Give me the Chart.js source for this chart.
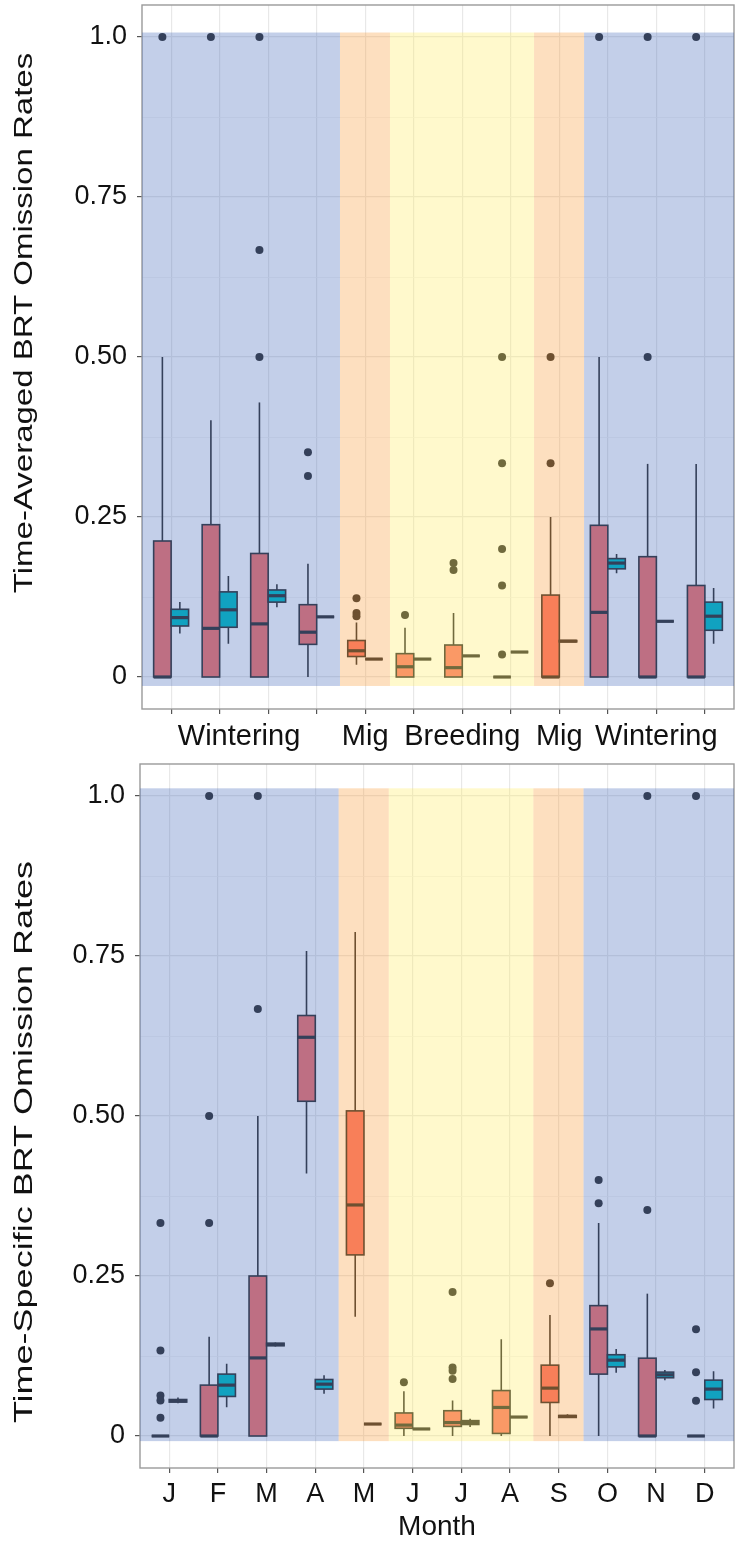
<!DOCTYPE html>
<html>
<head>
<meta charset="utf-8">
<script src="https://cdn.jsdelivr.net/npm/chart.js@4.4.1/dist/chart.umd.min.js"></script>
<style>
  html, body { margin: 0; padding: 0; background: #fff; }
  #wrap { position: relative; width: 738px; height: 1544px; }
  canvas { position: absolute; left: 0; }
</style>
</head>
<body>
<div id="wrap">
  <canvas id="avg-chart" width="738" height="760" style="top:0"></canvas>
  <canvas id="spec-chart" width="738" height="784" style="top:760px"></canvas>
</div>
<script>
// ── data ─────────────────────────────────────────────────────
const months      = [1, 2, 3, 4, 5, 6, 7, 8, 9, 10, 11, 12];
const monthLabels = ['J', 'F', 'M', 'A', 'M', 'J', 'J', 'A', 'S', 'O', 'N', 'D'];

const seasonLabels   = ['Wintering', 'Mig', 'Breeding', 'Mig', 'Wintering'];
const seasonLabelPos = [2.4, 5, 7, 9, 11];
const seasonEdges    = [0.4, 4.48, 5.51, 8.48, 9.51, 12.6];   // along the month axis
const seasonFills    = ['rgba(55,95,182,0.3)', 'rgba(248,148,42,0.3)', 'rgba(255,235,85,0.3)',
                        'rgba(248,148,42,0.3)', 'rgba(55,95,182,0.3)'];

const yMajor      = [0, 0.25, 0.5, 0.75, 1];
const yMajorLabel = ['0', '0.25', '0.50', '0.75', '1.0'];
const yMinor      = [0.125, 0.375, 0.625, 0.875];

// box stats per month: [lower whisker, q1, median, q3, upper whisker]
const avgLeft = [
  [0, 0, 0, 0.2125, 0.5],
  [0, 0, 0.076, 0.238, 0.401],
  [0, 0, 0.083, 0.193, 0.429],
  [0, 0.051, 0.070, 0.113, 0.177],
  [0.019, 0.032, 0.041, 0.057, 0.085],
  [0, 0, 0.016, 0.0365, 0.077],
  [0, 0, 0.0146, 0.05, 0.1],
  [0, 0, 0, 0, 0],
  [0, 0, 0, 0.128, 0.25],
  [0, 0, 0.101, 0.237, 0.5],
  [0, 0, 0, 0.188, 0.333],
  [0, 0, 0, 0.143, 0.333],
];
const avgRight = [
  [0.068, 0.0797, 0.0928, 0.1058, 0.117],
  [0.052, 0.0777, 0.105, 0.133, 0.158],
  [0.109, 0.117, 0.127, 0.136, 0.145],
  [0.094, 0.094, 0.094, 0.094, 0.094],
  [0.028, 0.028, 0.028, 0.028, 0.028],
  [0.028, 0.028, 0.028, 0.028, 0.028],
  [0.033, 0.033, 0.033, 0.033, 0.033],
  [0.039, 0.039, 0.039, 0.039, 0.039],
  [0.055, 0.055, 0.056, 0.057, 0.057],
  [0.162, 0.169, 0.178, 0.185, 0.192],
  [0.087, 0.087, 0.087, 0.087, 0.087],
  [0.052, 0.073, 0.095, 0.117, 0.139],
];
const avgLeftOut = [
  [1.0], [1.0], [1.0, 0.667, 0.5], [0.351, 0.314], [0.123, 0.1, 0.095], [0.097],
  [0.178, 0.167], [0.5, 0.334, 0.2, 0.143, 0.035], [0.5, 0.334], [1.0], [1.0, 0.5], [1.0],
];

const specLeft = [
  [0, 0, 0, 0, 0],
  [0, 0, 0, 0.0795, 0.155],
  [0, 0, 0.122, 0.25, 0.5],
  [0.41, 0.523, 0.623, 0.657, 0.758],
  [0.1865, 0.283, 0.361, 0.508, 0.7875],
  [0, 0.012, 0.017, 0.036, 0.07],
  [0, 0.015, 0.021, 0.0395, 0.0555],
  [0, 0.004, 0.0446, 0.071, 0.151],
  [0, 0.0524, 0.0748, 0.1107, 0.189],
  [0, 0.0967, 0.1673, 0.2037, 0.333],
  [0, 0, 0, 0.1216, 0.2224],
  [0, 0, 0, 0, 0],
];
const specRight = [
  [0.051, 0.053, 0.055, 0.057, 0.06],
  [0.045, 0.0618, 0.0795, 0.0967, 0.113],
  [0.14, 0.141, 0.143, 0.145, 0.146],
  [0.066, 0.0733, 0.081, 0.0883, 0.095],
  [0.0187, 0.0187, 0.0187, 0.0187, 0.0187],
  [0.011, 0.011, 0.011, 0.011, 0.011],
  [0.014, 0.018, 0.021, 0.024, 0.027],
  [0.0296, 0.0296, 0.0296, 0.0296, 0.0296],
  [0.028, 0.029, 0.0306, 0.032, 0.034],
  [0.099, 0.108, 0.1185, 0.127, 0.136],
  [0.087, 0.091, 0.0956, 0.0998, 0.103],
  [0.043, 0.057, 0.0733, 0.0873, 0.1013],
];
const specLeftOut = [
  [0.333, 0.1335, 0.0633, 0.0555, 0.0285], [1.0, 0.5, 0.333], [1.0, 0.667], [], [], [0.084],
  [0.225, 0.107, 0.102, 0.089], [], [0.2386], [0.4, 0.3638], [1.0, 0.353], [1.0, 0.1668, 0.0998, 0.055],
];

// ── look ─────────────────────────────────────────────────────
const FONT     = '"Liberation Sans", Arial, Helvetica, sans-serif';
const LEFT_C   = '#f8766d';
const RIGHT_C  = '#00bfc4';
const LINE_C   = '#333333';
const DODGE    = 0.18;
const BOX_W    = 0.36;

const isMajor = v => yMajor.some(t => Math.abs(t - v) < 1e-9);

function outlierPoints(outs, dx) {
  const pts = [];
  outs.forEach((vals, i) => vals.forEach(v => pts.push({ x: months[i] + dx, y: v })));
  return pts;
}

// boxes under the points, season shading over everything (as in the original)
const boxPlugin = {
  id: 'boxes',
  beforeDatasetsDraw(chart, args, opts) {
    const { ctx, chartArea: a, scales: { x, y } } = chart;
    ctx.save();
    ctx.strokeStyle = '#9a9a9a'; ctx.lineWidth = 1.4;
    ctx.strokeRect(a.left, a.top, a.right - a.left, a.bottom - a.top);
    const hw = (x.getPixelForValue(BOX_W) - x.getPixelForValue(0)) / 2;
    [[opts.left, LEFT_C, -DODGE], [opts.right, RIGHT_C, DODGE]].forEach(([stats, fill, dx]) => {
      stats.forEach((s, i) => {
        const cx = x.getPixelForValue(months[i] + dx);
        const [lo, q1, md, q3, hi] = s.map(v => y.getPixelForValue(v));
        ctx.strokeStyle = LINE_C; ctx.lineWidth = 1.6;
        ctx.beginPath();
        ctx.moveTo(cx, hi); ctx.lineTo(cx, q3);
        ctx.moveTo(cx, q1); ctx.lineTo(cx, lo);
        ctx.stroke();
        ctx.fillStyle = fill;
        ctx.fillRect(cx - hw, q3, 2 * hw, q1 - q3);
        ctx.strokeRect(cx - hw, q3, 2 * hw, q1 - q3);
        ctx.lineWidth = 3.2;
        ctx.beginPath(); ctx.moveTo(cx - hw, md); ctx.lineTo(cx + hw, md); ctx.stroke();
      });
    });
    ctx.restore();
  },
  afterDatasetsDraw(chart, args, opts) {
    const { ctx, scales: { x, y } } = chart;
    const top = y.getPixelForValue(opts.shadeTop), bot = y.getPixelForValue(opts.shadeBottom);
    ctx.save();
    seasonFills.forEach((c, i) => {
      const l = x.getPixelForValue(seasonEdges[i]), r = x.getPixelForValue(seasonEdges[i + 1]);
      ctx.fillStyle = c;
      ctx.fillRect(l, top, r - l, bot - top);
    });
    ctx.restore();
  },
  afterDraw(chart, args, opts) {
    const { ctx, chartArea: a, scales: { x } } = chart;
    ctx.save();
    ctx.fillStyle = '#111';
    ctx.textAlign = 'center';
    // y axis title: long and narrow, a little off the panel centre as in the original
    ctx.save();
    ctx.translate(opts.titleX, opts.titleY);
    ctx.rotate(-Math.PI / 2);
    ctx.scale(1, opts.titleSquash);
    ctx.font = opts.titleSize + 'px ' + FONT;
    ctx.textBaseline = 'middle';
    ctx.fillText(opts.title, 0, 0);
    ctx.restore();
    if (opts.seasons) {
      ctx.font = '29px ' + FONT;
      ctx.textBaseline = 'alphabetic';
      seasonLabels.forEach((t, i) => ctx.fillText(t, x.getPixelForValue(seasonLabelPos[i]), a.bottom + 36));
    }
    ctx.restore();
  }
};

function makeChart(id, cfg) {
  return new Chart(document.getElementById(id), {
    type: 'scatter',
    data: {
      datasets: [{
        data: outlierPoints(cfg.leftOut, -DODGE),
        pointRadius: 4, pointBackgroundColor: LINE_C, pointBorderWidth: 0,
      }]
    },
    options: {
      responsive: false, animation: false,
      layout: { padding: cfg.padding },
      plugins: {
        legend: { display: false }, tooltip: { enabled: false },
        boxes: {
          left: cfg.left, right: cfg.right, shadeTop: cfg.shadeTop, shadeBottom: cfg.shadeBottom,
          seasons: cfg.seasons, title: cfg.yTitle, titleSize: cfg.titleSize, titleSquash: cfg.titleSquash,
          titleX: cfg.titleX, titleY: cfg.titleY,
        },
      },
      scales: {
        x: {
          type: 'linear', min: 0.4, max: 12.6,
          afterBuildTicks: s => { s.ticks = months.map(v => ({ value: v })); },
          afterFit: s => { s.height = cfg.xHeight; s.paddingLeft = 0; s.paddingRight = 0; },
          ticks: {
            autoSkip: false, maxRotation: 0, padding: 5,
            callback: (v, i) => cfg.seasons ? '' : monthLabels[i],
            font: { family: FONT, size: 27 }, color: '#111',
          },
          grid: { color: '#e8e8e8', lineWidth: 1.2, tickColor: '#555', tickLength: 5 },
          border: { display: false },
          title: {
            display: !cfg.seasons, text: 'Month',
            font: { family: FONT, size: 28 }, color: '#111', padding: { top: 0, bottom: 0 },
          },
        },
        y: {
          type: 'linear', min: -0.05, max: 1.05,
          afterBuildTicks: s => { s.ticks = [...yMajor, ...yMinor].sort((a, b) => a - b).map(v => ({ value: v })); },
          afterFit: s => { s.width = cfg.yWidth; s.paddingTop = 0; s.paddingBottom = 0; },
          ticks: {
            padding: 10,
            callback: v => { const k = yMajor.findIndex(t => Math.abs(t - v) < 1e-9); return k < 0 ? '' : yMajorLabel[k]; },
            font: { family: FONT, size: 27 }, color: '#111',
          },
          grid: {
            color: c => isMajor(c.tick.value) ? '#e8e8e8' : '#f1f1f1',
            lineWidth: c => isMajor(c.tick.value) ? 1.2 : 0.8,
            tickColor: c => isMajor(c.tick.value) ? '#555' : 'rgba(0,0,0,0)',
            tickLength: 5,
          },
          border: { display: false },
        },
      },
    },
    plugins: [boxPlugin],
  });
}

makeChart('avg-chart', {
  left: avgLeft, right: avgRight, leftOut: avgLeftOut,
  yTitle: 'Time-Averaged BRT Omission Rates', seasons: true,
  titleSize: 33, titleSquash: 0.78, titleX: 25, titleY: 323,
  padding: { top: 5, right: 1, left: 0, bottom: 0 },
  yWidth: 142, xHeight: 51, shadeTop: 1.007, shadeBottom: -0.014,
});

makeChart('spec-chart', {
  left: specLeft, right: specRight, leftOut: specLeftOut,
  yTitle: 'Time-Specific BRT Omission Rates', seasons: false,
  titleSize: 36, titleSquash: 0.72, titleX: 25, titleY: 382,
  padding: { top: 4, right: 4, left: 0, bottom: 0 },
  yWidth: 140, xHeight: 76, shadeTop: 1.012, shadeBottom: -0.008,
});
</script>
</body>
</html>
